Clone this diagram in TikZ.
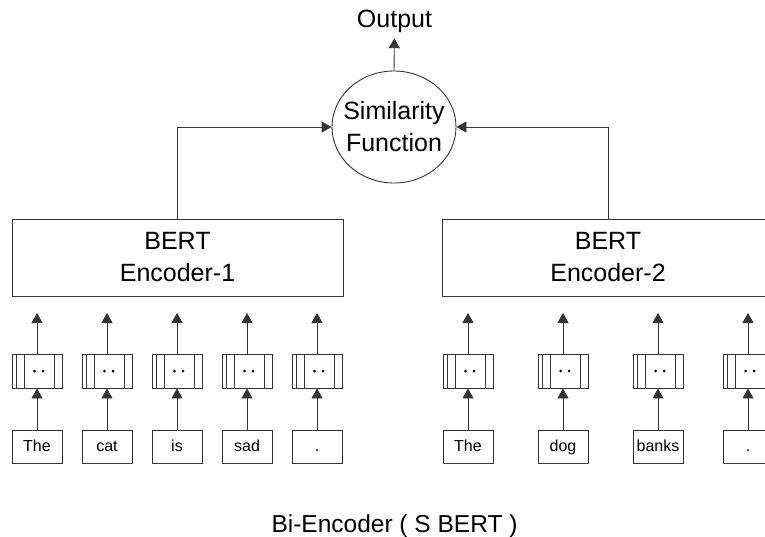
\documentclass[tikz,border=0pt]{standalone}
\usepackage{fontspec}
\setmainfont{Liberation Sans}
\usetikzlibrary{arrows.meta,calc,shapes.geometric}
\begin{document}
\begin{tikzpicture}[x=1pt,y=-1pt,
  ln/.style={draw=black!80,line width=0.9pt},
  arr/.style={draw=black!80,line width=0.9pt,-{Triangle[length=10pt,width=11pt]}},
  word/.style={ln,rectangle,minimum width=50pt,minimum height=33pt,inner sep=0pt,text height=12pt,text depth=3pt,font=\fontsize{16}{18}\selectfont},
  emb/.style={ln,rectangle,minimum width=50pt,minimum height=34pt,inner sep=0pt},
  enc/.style={ln,rectangle,minimum width=331pt,minimum height=77pt,inner sep=0pt,align=center,font=\fontsize{25}{32}\selectfont},
  simc/.style={ln,ellipse,minimum width=124pt,minimum height=112pt,inner sep=0pt},
  big/.style={font=\fontsize{25}{32}\selectfont,align=center,inner sep=0pt,outer sep=0pt}
]
\clip (0,0) rectangle (765,536);

% Similarity function
\node[simc] (sim) at (394,127) {};
\node[big] (simtxt) at (394,127) {Similarity\\Function};
\node[big,anchor=base] (out) at (394.5,27) {Output};
\draw[arr,shorten >=6pt] (sim.north) -- (out.south);

% Encoders
\node[enc] (enc1) at (177.5,257.5) {BERT\\Encoder-1};
\node[enc] (enc2) at (608,257.5) {BERT\\Encoder-2};
\draw[arr] (enc1.north) |- (sim.west);
\draw[arr] (enc2.north) |- (sim.east);

% Token columns
\foreach \x/\w [count=\i] in {37/The,107/cat,177/is,247/sad,317/.,468/The,563/dog,658/banks,748/.} {
  \node[word] (w\i) at (\x,446.5) {\w};
  \node[emb] (e\i) at (\x,371) {};
  \draw[ln] ($(e\i.north west)+(5,0)$) -- ($(e\i.south west)+(5,0)$);
  \draw[ln] ($(e\i.north west)+(13,0)$) -- ($(e\i.south west)+(13,0)$);
  \draw[ln] ($(e\i.north east)+(-8,0)$) -- ($(e\i.south east)+(-8,0)$);
  \fill ($(e\i.center)+(-2.5,0)$) circle (1.5);
  \fill ($(e\i.center)+(6,0)$) circle (1.5);
  \coordinate (t\i) at (\x,313);
  \draw[arr] (w\i.north) -- (e\i.south);
  \draw[arr] (e\i.north) -- (t\i);
}

% Caption
\node[font=\fontsize{24.5}{30}\selectfont,anchor=base,inner sep=0pt] (cap) at (394.5,532) {Bi-Encoder ( S BERT )};
\end{tikzpicture}
\end{document}
